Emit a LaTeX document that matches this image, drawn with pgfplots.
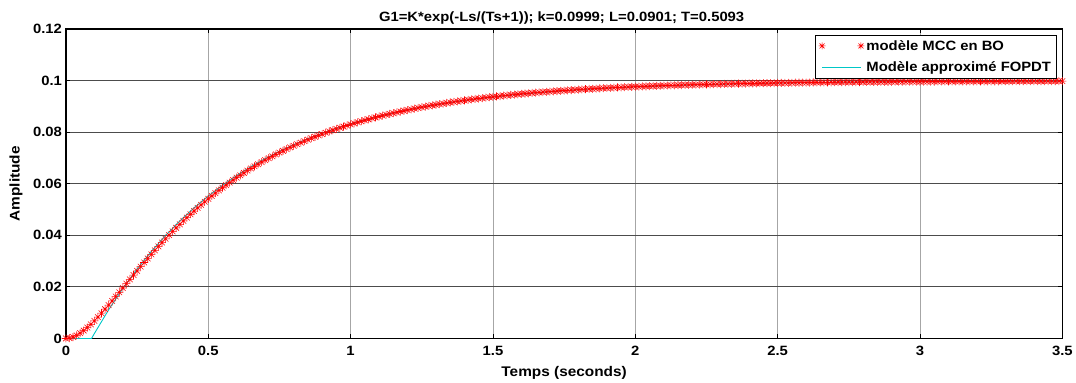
\documentclass[border=0pt]{standalone}
\usepackage{fontspec}
\setmainfont{Liberation Sans}[FakeStretch=1.1]
\usepackage{pgfplots}
\pgfplotsset{compat=1.18}
\usepackage{pgfplotstable}
\definecolor{mcyan}{rgb}{0,0.78,0.78}
\pgfdeclareplotmark{mstar}{%
 \pgfpathmoveto{\pgfqpoint{-\pgfplotmarksize}{0pt}}\pgfpathlineto{\pgfqpoint{\pgfplotmarksize}{0pt}}%
 \pgfpathmoveto{\pgfqpoint{0pt}{-\pgfplotmarksize}}\pgfpathlineto{\pgfqpoint{0pt}{\pgfplotmarksize}}%
 \pgfpathmoveto{\pgfqpoint{-.707\pgfplotmarksize}{-.707\pgfplotmarksize}}\pgfpathlineto{\pgfqpoint{.707\pgfplotmarksize}{.707\pgfplotmarksize}}%
 \pgfpathmoveto{\pgfqpoint{-.707\pgfplotmarksize}{.707\pgfplotmarksize}}\pgfpathlineto{\pgfqpoint{.707\pgfplotmarksize}{-.707\pgfplotmarksize}}%
 \pgfusepathqstroke}
\pgfplotstableread{
t y
0 0
0.025 0.000566
0.05 0.002057
0.075 0.004216
0.1 0.006849
0.125 0.009803
0.15 0.012963
0.175 0.016242
0.2 0.019574
0.225 0.022909
0.25 0.026209
0.275 0.029450
0.3 0.032611
0.325 0.035678
0.35 0.038643
0.375 0.041501
0.4 0.044248
0.425 0.046883
0.45 0.049407
0.475 0.051822
0.5 0.054129
0.525 0.056333
0.55 0.058435
0.575 0.060440
0.6 0.062350
0.625 0.064171
0.65 0.065905
0.675 0.067557
0.7 0.069129
0.725 0.070626
0.75 0.072050
0.775 0.073406
0.8 0.074697
0.825 0.075924
0.85 0.077092
0.875 0.078204
0.9 0.079258
0.925 0.080265
0.95 0.081223
0.975 0.082133
1 0.083000
1.025 0.083824
1.05 0.084608
1.075 0.085354
1.1 0.086063
1.125 0.086738
1.15 0.087380
1.175 0.087991
1.2 0.088572
1.225 0.089124
1.25 0.089650
1.275 0.090150
1.3 0.090625
1.325 0.091077
1.35 0.091508
1.375 0.091917
1.4 0.092306
1.425 0.092677
1.45 0.093029
1.475 0.093364
1.5 0.093683
1.525 0.093986
1.55 0.094275
1.575 0.094549
1.6 0.094810
1.625 0.095058
1.65 0.095294
1.675 0.095519
1.7 0.095733
1.725 0.095936
1.75 0.096129
1.775 0.096313
1.8 0.096488
1.825 0.096654
1.85 0.096813
1.875 0.096963
1.9 0.097107
1.925 0.097243
1.95 0.097372
1.975 0.097496
2 0.097613
2.025 0.097724
2.05 0.097831
2.075 0.097931
2.1 0.098027
2.125 0.098119
2.15 0.098206
2.175 0.098288
2.2 0.098367
2.225 0.098442
2.25 0.098513
2.275 0.098580
2.3 0.098645
2.325 0.098706
2.35 0.098764
2.375 0.098820
2.4 0.098872
2.425 0.098922
2.45 0.098970
2.475 0.099015
2.5 0.099059
2.525 0.099100
2.55 0.099139
2.575 0.099176
2.6 0.099211
2.625 0.099245
2.65 0.099277
2.675 0.099307
2.7 0.099336
2.725 0.099364
2.75 0.099390
2.775 0.099415
2.8 0.099438
2.825 0.099461
2.85 0.099482
2.875 0.099503
2.9 0.099522
2.925 0.099540
2.95 0.099558
2.975 0.099575
3 0.099590
3.025 0.099606
3.05 0.099620
3.075 0.099634
3.1 0.099647
3.125 0.099659
3.15 0.099671
3.175 0.099682
3.2 0.099692
3.225 0.099703
3.25 0.099712
3.275 0.099721
3.3 0.099730
3.325 0.099738
3.35 0.099746
3.375 0.099754
3.4 0.099761
3.425 0.099768
3.45 0.099774
3.475 0.099780
3.5 0.099786
0.0125 0.000148
0.0375 0.001213
0.0625 0.003067
0.0875 0.005484
0.1125 0.008293
0.1375 0.011363
0.1625 0.014592
0.1875 0.017905
0.2125 0.021243
0.2375 0.024565
0.2625 0.027839
0.2875 0.031041
0.3125 0.034157
0.3375 0.037174
0.3625 0.040086
0.3875 0.042888
0.4125 0.045579
0.4375 0.048159
0.4625 0.050628
0.4875 0.052989
0.5125 0.055244
0.5375 0.057396
0.5625 0.059449
0.5875 0.061406
0.6125 0.063272
0.6375 0.065049
0.6625 0.066741
0.6875 0.068353
0.7125 0.069887
0.7375 0.071347
0.7625 0.072737
0.7875 0.074059
0.8125 0.075318
0.8375 0.076515
0.8625 0.077655
0.8875 0.078740
0.9125 0.079768
0.9375 0.080750
0.9625 0.081684
0.9875 0.082572
1.0125 0.083417
1.0375 0.084221
1.0625 0.084986
1.0875 0.085713
1.1125 0.086405
1.1375 0.087063
1.1625 0.087689
1.1875 0.088285
1.2125 0.088851
1.2375 0.089390
1.2625 0.089903
1.2875 0.090390
1.3125 0.090854
1.3375 0.091295
1.3625 0.091715
1.3875 0.092114
1.4125 0.092494
1.4375 0.092855
1.4625 0.093199
1.4875 0.093525
1.5125 0.093836
1.5375 0.094132
1.5625 0.094413
1.5875 0.094681
1.6125 0.094935
1.6375 0.095178
1.6625 0.095408
1.6875 0.095627
1.7125 0.095835
1.7375 0.096034
1.7625 0.096222
1.7875 0.096402
1.8125 0.096572
1.8375 0.096734
1.8625 0.096889
1.8875 0.097036
1.9125 0.097175
1.9375 0.097308
1.9625 0.097435
1.9875 0.097555
2.0125 0.097669
2.0375 0.097778
2.0625 0.097882
2.0875 0.097980
2.1125 0.098074
2.1375 0.098163
2.1625 0.098247
2.1875 0.098328
2.2125 0.098405
2.2375 0.098478
2.2625 0.098547
2.2875 0.098613
2.3125 0.098676
2.3375 0.098735
2.3625 0.098792
2.3875 0.098846
2.4125 0.098898
2.4375 0.098947
2.4625 0.098993
2.4875 0.099037
2.5125 0.099079
2.5375 0.099119
2.5625 0.099157
2.5875 0.099194
2.6125 0.099228
2.6375 0.099261
2.6625 0.099292
2.6875 0.099322
2.7125 0.099350
2.7375 0.099377
2.7625 0.099402
2.7875 0.099427
2.8125 0.099450
2.8375 0.099472
2.8625 0.099492
2.8875 0.099512
2.9125 0.099531
2.9375 0.099549
2.9625 0.099567
2.9875 0.099583
3.0125 0.099598
3.0375 0.099613
3.0625 0.099627
3.0875 0.099640
3.1125 0.099653
3.1375 0.099665
3.1625 0.099676
3.1875 0.099687
3.2125 0.099697
3.2375 0.099707
3.2625 0.099717
3.2875 0.099726
3.3125 0.099734
3.3375 0.099742
3.3625 0.099750
3.3875 0.099757
3.4125 0.099764
3.4375 0.099771
3.4625 0.099777
3.4875 0.099783
}\measured
\pgfplotstableread{
t y
0 0
0.0901 0
0.1 0.001923
0.15 0.011085
0.2 0.019390
0.25 0.026920
0.3 0.033743
0.35 0.039930
0.4 0.045538
0.45 0.050621
0.5 0.055229
0.55 0.059406
0.6 0.063193
0.65 0.066625
0.7 0.069737
0.75 0.072557
0.8 0.075114
0.85 0.077432
0.9 0.079532
0.95 0.081437
1 0.083164
1.05 0.084729
1.1 0.086148
1.15 0.087434
1.2 0.088599
1.25 0.089656
1.3 0.090614
1.35 0.091482
1.4 0.092270
1.45 0.092983
1.5 0.093629
1.6 0.094747
1.7 0.095666
1.8 0.096420
1.9 0.097041
2 0.097550
2.2 0.098314
2.4 0.098829
2.6 0.099177
2.8 0.099410
3 0.099570
3.2 0.099677
3.4 0.099750
3.5 0.099777
}\fopdt
\begin{document}
\begin{tikzpicture}
\begin{axis}[
  scale only axis,
  width=998pt, height=310pt,
  xmin=0, xmax=3.5, ymin=0, ymax=0.12,
  xtick={0,0.5,1,1.5,2,2.5,3,3.5},
  xticklabels={0,0.5,1,1.5,2,2.5,3,3.5},
  ytick={0,0.02,0.04,0.06,0.08,0.1,0.12},
  yticklabels={0,0.02,0.04,0.06,0.08,0.1,0.12},
  scaled ticks=false,
  tick label style={font=\bfseries\fontsize{13.5}{15}\selectfont},
  xticklabel style={yshift=-4pt},
  yticklabel style={xshift=-0.5pt},
  tick align=inside,
  major tick length=4pt,
  tick style={black, line width=0.8pt},
  axis line style={black, line width=1.3pt},
  grid=major,
  x grid style={black!35, line width=0.8pt},
  y grid style={black!70, line width=0.8pt},
  clip=false,
  title={G1=K*exp(-Ls/(Ts+1)); k=0.0999; L=0.0901; T=0.5093},
  title style={font=\bfseries\fontsize{13.5}{15}\selectfont, at={(axis description cs:0.4975,1.0150)}, anchor=center},
  xlabel={Temps (seconds)},
  xlabel style={font=\bfseries\fontsize{14}{16}\selectfont, at={(axis description cs:0.5,-0.1110)}, anchor=center},
  ylabel={Amplitude},
  ylabel style={font=\bfseries\fontsize{14}{16}\selectfont, at={(axis description cs:-0.0501,0.5)}, anchor=center},
  legend style={at={(0.994,0.981)}, anchor=north east, font=\bfseries\fontsize{13.5}{15}\selectfont,
    draw=black, line width=0.8pt, fill=white, inner xsep=3pt, inner ysep=3pt, row sep=6.5pt,
    nodes={inner xsep=2pt, inner ysep=2pt}},
  legend cell align=left,
]
\addplot[only marks, mark=mstar, mark size=4pt, red, mark options={line width=0.55pt},
  legend image code/.code={\draw[red, mark=mstar, mark size=3.5pt, line width=0.55pt, only marks] plot coordinates {(0pt,0pt) (39pt,0pt)};}]
  table[x=t,y=y] {\measured};
\addlegendentry{modèle MCC en BO}
\addplot[mcyan, line width=0.9pt, no marks,
  legend image code/.code={\draw[mcyan, line width=0.9pt] (0pt,0pt) -- (39pt,0pt);}]
  table[x=t,y=y] {\fopdt};
\addlegendentry{Modèle approximé FOPDT}
\end{axis}
\path[use as bounding box] ([shift={(-66pt,-42pt)}]current axis.south west) rectangle ([shift={(12pt,29pt)}]current axis.north east);
\end{tikzpicture}
\end{document}
